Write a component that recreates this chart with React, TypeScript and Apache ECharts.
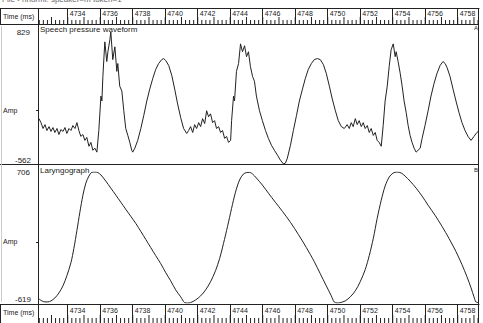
import React, { useEffect, useRef } from 'react';
import * as echarts from 'echarts';

const T_MIN = 4732.17;
const T_MAX = 4759.31;
const MAJOR_TICKS = [4734, 4736, 4738, 4740, 4742, 4744, 4746, 4748, 4750, 4752, 4754, 4756, 4758];
const TICK_STEP = 0.25;
const SPEECH_MIN = -562;
const SPEECH_MAX = 829;
const LARYNX_MIN = -619;
const LARYNX_MAX = 706;

const SPEECH_T = [
  4732.17, 4732.29, 4732.42, 4732.54, 4732.66, 4732.79, 4732.91, 4733.03, 4733.15, 4733.28, 4733.40, 4733.52, 4733.65, 4733.77, 4733.89, 4734.02, 4734.14, 4734.26, 4734.39, 4734.51, 4734.63, 4734.75, 4734.88, 4735.00, 4735.12, 4735.25, 4735.37, 4735.49, 4735.62, 4735.74,
  4735.86, 4735.99, 4736.05, 4736.11, 4736.23, 4736.35, 4736.42, 4736.54, 4736.60, 4736.72, 4736.85, 4736.97, 4737.03, 4737.15, 4737.28, 4737.40, 4737.52, 4737.65, 4737.77, 4737.89, 4737.95,
  4738.08, 4738.26, 4738.45, 4738.63, 4738.82, 4739.00, 4739.19, 4739.37, 4739.55, 4739.74, 4739.86, 4739.99, 4740.17, 4740.36, 4740.54, 4740.72, 4740.91, 4741.09, 4741.28,
  4741.40, 4741.52, 4741.65, 4741.77, 4741.89, 4742.02, 4742.14, 4742.26, 4742.39, 4742.51, 4742.63, 4742.75, 4742.88, 4743.00, 4743.12, 4743.25, 4743.37, 4743.49, 4743.62, 4743.74, 4743.86, 4743.99,
  4744.05, 4744.17, 4744.23, 4744.35, 4744.48, 4744.60, 4744.72, 4744.85, 4744.97, 4745.09, 4745.21, 4745.34, 4745.46, 4745.58, 4745.77, 4745.95, 4746.14, 4746.32, 4746.51, 4746.69, 4746.88, 4747.06, 4747.25, 4747.37,
  4747.49, 4747.68, 4747.86, 4748.05, 4748.23, 4748.42, 4748.60, 4748.78, 4748.97, 4749.15, 4749.34, 4749.52, 4749.71, 4749.89, 4750.08, 4750.26, 4750.45, 4750.63, 4750.82, 4751.00,
  4751.18, 4751.31, 4751.43, 4751.55, 4751.68, 4751.80, 4751.92, 4752.05, 4752.17, 4752.29, 4752.42, 4752.54, 4752.66, 4752.79, 4752.91, 4753.03, 4753.15, 4753.28,
  4753.40, 4753.52, 4753.65, 4753.77, 4753.89, 4754.02, 4754.14, 4754.20, 4754.32, 4754.45, 4754.57, 4754.69, 4754.82, 4754.94, 4755.06, 4755.18, 4755.31, 4755.43, 4755.55, 4755.68,
  4755.80, 4755.98, 4756.17, 4756.35, 4756.54, 4756.72, 4756.91, 4757.09, 4757.22, 4757.34, 4757.52, 4757.71, 4757.89, 4758.08, 4758.26, 4758.45, 4758.63, 4758.82, 4759.00, 4759.18, 4759.31,
];
const SPEECH_A = [
  -84, -126, -188, -147, -209, -168, -219, -178, -230, -188, -251, -199, -219, -178, -240, -188, -209, -157, -188, -126, -209, -271, -251, -313, -282, -375, -334, -417, -396, -437,
  -209, 154, 102, 362, 725, 518, 621, 746, 829, 538, 673, 414, 497, 258, 206, 0, -188, -261, -334, -417, -437,
  -396, -313, -188, -53, 102, 227, 341, 435, 497, 538, 549, 528, 476, 372, 227, 71, -74, -188, -240,
  -209, -168, -230, -147, -188, -126, -168, -84, -136, -1, -64, -33, -126, -105, -188, -168, -230, -209, -292, -271, -334, -313,
  -105, 154, 102, 414, 497, 704, 621, 684, 569, 621, 466, 362, 310, 154, -1, -105, -209, -292, -365, -417, -469, -521, -562, -552,
  -500, -365, -209, -53, 102, 227, 341, 435, 497, 538, 549, 538, 486, 393, 258, 123, -1, -105, -168, -188,
  -147, -188, -126, -168, -84, -147, -105, -168, -126, -188, -157, -230, -188, -261, -230, -313, -334, -375,
  -157, 102, 258, 466, 642, 704, 569, 621, 518, 393, 258, 102, -22, -157, -261, -334, -396, -437, -417, -396,
  -292, -157, -2, 154, 289, 393, 476, 518, 497, 455, 362, 227, 102, -22, -126, -209, -271, -313, -271, -230, -209,
];

const LARYNX_T = [
  4732.17, 4732.35, 4732.54, 4732.72, 4732.91, 4733.15, 4733.40, 4733.65, 4733.89, 4734.14, 4734.32, 4734.51, 4734.69, 4734.88, 4735.06, 4735.25, 4735.43, 4735.62, 4735.80, 4735.99,
  4736.29, 4736.60, 4736.91, 4737.22, 4737.52, 4737.83, 4738.14, 4738.45, 4738.76, 4739.06, 4739.37, 4739.68, 4739.99, 4740.29, 4740.60, 4740.91, 4741.15, 4741.34,
  4741.52, 4741.83, 4742.14, 4742.45, 4742.75, 4743.06, 4743.31, 4743.55, 4743.80, 4744.05, 4744.29, 4744.54, 4744.78, 4744.97, 4745.15, 4745.34, 4745.58, 4745.95,
  4746.32, 4746.75, 4747.18, 4747.68, 4748.17, 4748.66, 4749.15, 4749.52, 4749.89, 4750.20, 4750.38, 4750.57,
  4750.75, 4751.06, 4751.37, 4751.68, 4751.98, 4752.29, 4752.54, 4752.79, 4753.03, 4753.28, 4753.52, 4753.77, 4754.02, 4754.26, 4754.51, 4754.75, 4755.06, 4755.43,
  4755.80, 4756.17, 4756.60, 4757.03, 4757.46, 4757.89, 4758.26, 4758.57, 4758.82, 4759.00, 4759.12, 4759.31,
];
const LARYNX_A = [
  -578, -598, -608, -608, -598, -568, -517, -445, -343, -211, -68, 115, 299, 472, 594, 665, 703, 706, 700, 676,
  614, 543, 472, 400, 329, 258, 186, 105, 23, -58, -140, -221, -313, -394, -486, -557, -615, -619,
  -615, -588, -547, -486, -405, -292, -170, -17, 156, 339, 502, 625, 686, 700, 702, 686, 645, 574,
  492, 400, 309, 197, 74, -58, -201, -323, -445, -547, -608, -619,
  -615, -598, -557, -496, -405, -282, -140, 34, 237, 421, 564, 655, 696, 706, 696, 665, 614, 543,
  462, 370, 268, 156, 34, -99, -231, -354, -466, -557, -608, -615,
];

const INK = '#222';
const FONT = 'Liberation Sans';

const PLOT_LEFT = 38;
const PLOT_WIDTH = 441;

function minorTickValues(): number[] {
  const out: number[] = [];
  for (let v = Math.ceil(T_MIN / TICK_STEP) * TICK_STEP; v <= T_MAX; v += TICK_STEP) out.push(+v.toFixed(2));
  return out;
}

export default function App() {
  const ref = useRef<HTMLDivElement>(null);
  useEffect(() => {
    if (!ref.current) return;
    const chart = echarts.init(ref.current, null, { renderer: 'svg' });
    const speech = SPEECH_T.map((t, i) => [t, SPEECH_A[i]]);
    const larynx = LARYNX_T.map((t, i) => [t, LARYNX_A[i]]);

    const grids: any[] = [];
    const xAxes: any[] = [];
    const yAxes: any[] = [];
    const series: any[] = [];
    const addGrid = (top: number, height: number) => {
      grids.push({ left: PLOT_LEFT, top, width: PLOT_WIDTH, height });
      return grids.length - 1;
    };
    const xBase = (g: number) => ({
      type: 'value', gridIndex: g, min: T_MIN, max: T_MAX, splitLine: { show: false }, position: 'top',
    });
    const timeBox = (top: number, height: number, labelMargin: number, qLen: number, mLen: number) => {
      const g = addGrid(top, height);
      xAxes.push({
        ...xBase(g),
        axisLine: { show: true, onZero: false, lineStyle: { color: INK, width: 1 } },
        axisTick: { show: true, inside: true, length: height, customValues: MAJOR_TICKS, lineStyle: { color: INK } },
        axisLabel: {
          show: true, inside: true, customValues: MAJOR_TICKS, margin: labelMargin, align: 'left',
          verticalAlign: 'top', padding: [0, 0, 0, 2], fontSize: 7, fontFamily: FONT, color: INK,
          formatter: (v: number) => String(Math.round(v)),
        },
      });
      const xi = xAxes.length - 1;
      yAxes.push({ type: 'value', gridIndex: g, min: 0, max: 1, show: false });
      const yi = yAxes.length - 1;
      // small ticks rising from the box's bottom line: every 0.25 ms, longer on whole ms
      const vals = minorTickValues();
      const whole = vals.filter((v) => Math.abs(v - Math.round(v)) < 1e-6);
      const part = vals.filter((v) => Math.abs(v - Math.round(v)) >= 1e-6);
      const tickSeries = (vs: number[], len: number) => ({
        type: 'scatter', xAxisIndex: xi, yAxisIndex: yi, silent: true, clip: false,
        data: vs.map((v) => [v, 0]),
        symbol: 'rect', symbolSize: [1, len], symbolOffset: [0, -len / 2],
        itemStyle: { color: INK, opacity: 1 },
        emphasis: { disabled: true },
        z: 5,
      });
      series.push(tickSeries(part, qLen), tickSeries(whole, mLen));
    };
    const panel = (top: number, height: number, min: number, max: number) => {
      const g = addGrid(top, height);
      xAxes.push({
        ...xBase(g), position: 'bottom',
        axisLine: { show: false, onZero: false }, axisTick: { show: false }, axisLabel: { show: false },
      });
      const yb = { type: 'value', gridIndex: g, min, max, position: 'left', splitLine: { show: false }, axisLine: { show: false } };
      yAxes.push({
        ...yb,
        axisTick: { show: false },
        axisLabel: { show: true, customValues: [max], margin: 9, fontSize: 8, fontFamily: FONT, color: INK },
      });
      const yIdx = yAxes.length - 1;
      yAxes.push({
        ...yb,
        axisTick: { show: false },
        axisLabel: {
          show: true, customValues: [min], margin: 8, verticalAlign: 'bottom',
          fontSize: 8, fontFamily: FONT, color: INK,
        },
      });
      yAxes.push({
        ...yb,
        axisTick: { show: true, customValues: [0], length: 3, lineStyle: { color: INK } },
        axisLabel: {
          show: true, customValues: [0], margin: 36, align: 'left', formatter: () => 'Amp',
          fontSize: 7, fontFamily: FONT, color: INK,
        },
      });
      return { x: xAxes.length - 1, y: yIdx };
    };

    timeBox(8, 16, 2, 4, 7);
    const up = panel(32, 132, SPEECH_MIN, SPEECH_MAX);
    const lo = panel(172, 131, LARYNX_MIN, LARYNX_MAX);
    timeBox(304, 20, 3, 5, 8);

    series.push(
      {
        type: 'line', xAxisIndex: up.x, yAxisIndex: up.y, data: speech, showSymbol: false,
        lineStyle: { color: INK, width: 1 }, silent: true,
      },
      {
        type: 'line', xAxisIndex: lo.x, yAxisIndex: lo.y, data: larynx, showSymbol: false, smooth: 0.3,
        lineStyle: { color: INK, width: 1 }, silent: true,
      },
    );

    const txt = (text: string, x: number, y: number, size: number, extra: any = {}) => ({
      type: 'text', x, y, silent: true,
      style: { text, fill: INK, fontSize: size, fontFamily: FONT, verticalAlign: 'middle', ...extra },
    });
    const ln = (x1: number, y1: number, x2: number, y2: number, stroke = INK) => ({
      type: 'line', silent: true, shape: { x1, y1, x2, y2 }, style: { stroke, lineWidth: 1 },
    });
    chart.setOption({
      animation: false,
      backgroundColor: '#fff',
      grid: grids,
      xAxis: xAxes,
      yAxis: yAxes,
      series,
      graphic: [
        ln(38.5, 8, 38.5, 330),
        ln(478.5, 8, 478.5, 330),
        ln(0.5, 8, 0.5, 24),
        ln(0, 8.5, 38, 8.5),
        ln(0, 24.5, 479, 24.5),
        ln(0, 164.5, 479, 164.5),
        ln(0.5, 304, 0.5, 330),
        ln(0, 304.5, 38, 304.5),
        ln(1.5, 26, 1.5, 302, '#ccc'),
        txt('File - hnorml: speaker=m token=1', 2, -1, 8, { fill: '#666' }),
        txt('Time (ms)', 3, 16.5, 7),
        txt('Time (ms)', 3, 312.5, 7),
        txt('Speech pressure waveform', 40, 29, 8),
        txt('Laryngograph', 40, 170, 8),
        txt('A', 474, 28, 6),
        txt('B', 474, 170, 6),
      ],
    });
    return () => chart.dispose();
  }, []);
  return <div ref={ref} style={{ position: 'fixed', left: 0, top: 0, width: 483, height: 323 }} />;
}
